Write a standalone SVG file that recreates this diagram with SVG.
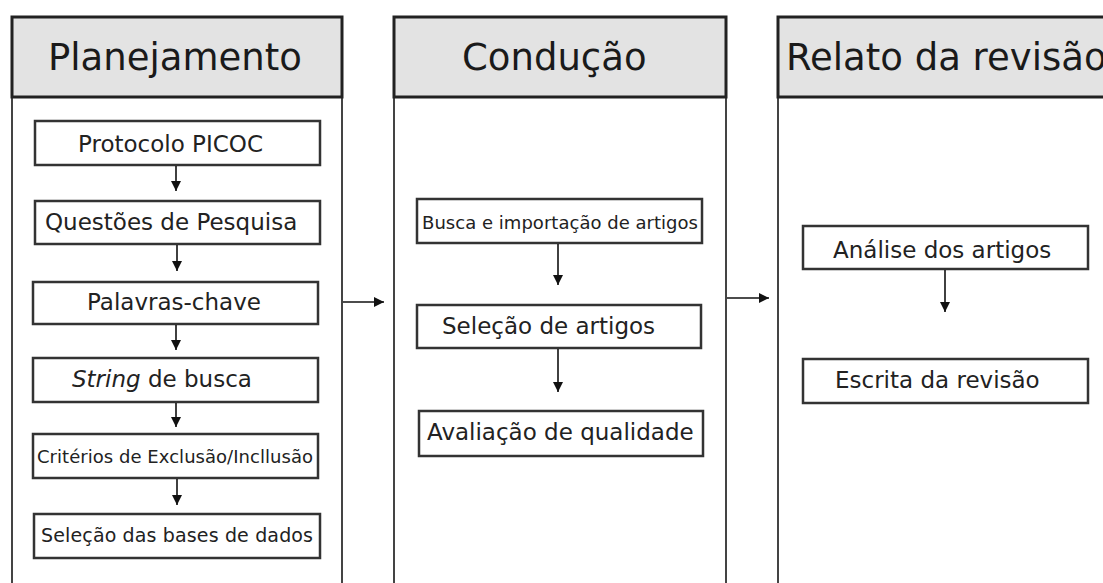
<svg xmlns="http://www.w3.org/2000/svg" width="1103" height="583" viewBox="0 0 1103 583">
<defs>
<style>
.hdr{fill:#e3e3e3;stroke:#222;stroke-width:3}
.side{stroke:#444;stroke-width:2;fill:none}
.box{fill:#fff;stroke:#333;stroke-width:2.5}
.ht{font-family:"DejaVu Sans",Verdana,sans-serif;font-size:37px;fill:#1a1a1a}
.t{font-family:"DejaVu Sans",Verdana,sans-serif;font-size:23px;fill:#222}
.s{font-family:"DejaVu Sans",Verdana,sans-serif;font-size:18px;fill:#222}
.c{stroke:#111;stroke-width:1.6;fill:none}
</style>
<marker id="ah" viewBox="0 0 10 10" refX="10" refY="5" markerWidth="10" markerHeight="10" markerUnits="userSpaceOnUse" orient="auto">
<path d="M0,0 L10,5 L0,10 Z" fill="#111"/>
</marker>
</defs>
<rect width="1103" height="583" fill="#fff"/>

<g id="col-planejamento">
<line class="side" x1="12" y1="97" x2="12" y2="583"/>
<line class="side" x1="342" y1="97" x2="342" y2="583"/>
<rect class="hdr" x="12" y="17" width="330" height="80"/>
<text class="ht" x="48" y="70">Planejamento</text>
</g>
<g id="col-conducao">
<line class="side" x1="394" y1="97" x2="394" y2="583"/>
<line class="side" x1="726" y1="97" x2="726" y2="583"/>
<rect class="hdr" x="394" y="17" width="332" height="80"/>
<text class="ht" x="462" y="70">Condução</text>
</g>
<g id="col-relato">
<line class="side" x1="778" y1="97" x2="778" y2="583"/>
<rect class="hdr" x="778" y="17" width="340" height="80"/>
<text class="ht" x="786" y="70">Relato da revisão</text>
</g>

<g id="n-protocolo"><rect class="box" x="35" y="121" width="285" height="44"/><text class="t" x="78" y="152">Protocolo PICOC</text></g>
<g id="n-questoes"><rect class="box" x="35" y="201" width="285" height="43"/><text class="t" x="45" y="230">Questões de Pesquisa</text></g>
<g id="n-palavras"><rect class="box" x="33" y="282" width="285" height="42"/><text class="t" x="87" y="310">Palavras-chave</text></g>
<g id="n-string"><rect class="box" x="33" y="358" width="285" height="44"/><text class="t" x="72" y="387"><tspan font-style="italic">String</tspan> de busca</text></g>
<g id="n-criterios"><rect class="box" x="33" y="434" width="285" height="44"/><text class="s" x="37" y="463" textLength="276">Critérios de Exclusão/Incllusão</text></g>
<g id="n-bases"><rect class="box" x="34" y="514" width="286" height="44"/><text class="t" x="41" y="542" font-size="19px" style="font-size:19px" textLength="272">Seleção das bases de dados</text></g>

<g id="n-busca"><rect class="box" x="417" y="199" width="285" height="44"/><text class="s" x="422" y="229" textLength="276">Busca e importação de artigos</text></g>
<g id="n-selecao"><rect class="box" x="417" y="305" width="284" height="43"/><text class="t" x="442" y="334">Seleção de artigos</text></g>
<g id="n-avaliacao"><rect class="box" x="419" y="411" width="284" height="45"/><text class="t" x="427" y="440">Avaliação de qualidade</text></g>

<g id="n-analise"><rect class="box" x="803" y="226" width="285" height="43"/><text class="t" x="833" y="258">Análise dos artigos</text></g>
<g id="n-escrita"><rect class="box" x="803" y="359" width="285" height="44"/><text class="t" x="835" y="388">Escrita da revisão</text></g>

<g id="connectors">
<line class="c" x1="176" y1="166" x2="176" y2="191" marker-end="url(#ah)"/>
<line class="c" x1="177" y1="245" x2="177" y2="271" marker-end="url(#ah)"/>
<line class="c" x1="176" y1="325" x2="176" y2="350" marker-end="url(#ah)"/>
<line class="c" x1="176" y1="403" x2="176" y2="427" marker-end="url(#ah)"/>
<line class="c" x1="177" y1="479" x2="177" y2="505" marker-end="url(#ah)"/>
<line class="c" x1="558" y1="244" x2="558" y2="285" marker-end="url(#ah)"/>
<line class="c" x1="558" y1="349" x2="558" y2="392" marker-end="url(#ah)"/>
<line class="c" x1="945" y1="270" x2="945" y2="312" marker-end="url(#ah)"/>
<line class="c" x1="343" y1="302" x2="384" y2="302" marker-end="url(#ah)"/>
<line class="c" x1="727" y1="298" x2="769" y2="298" marker-end="url(#ah)"/>
</g>
</svg>
